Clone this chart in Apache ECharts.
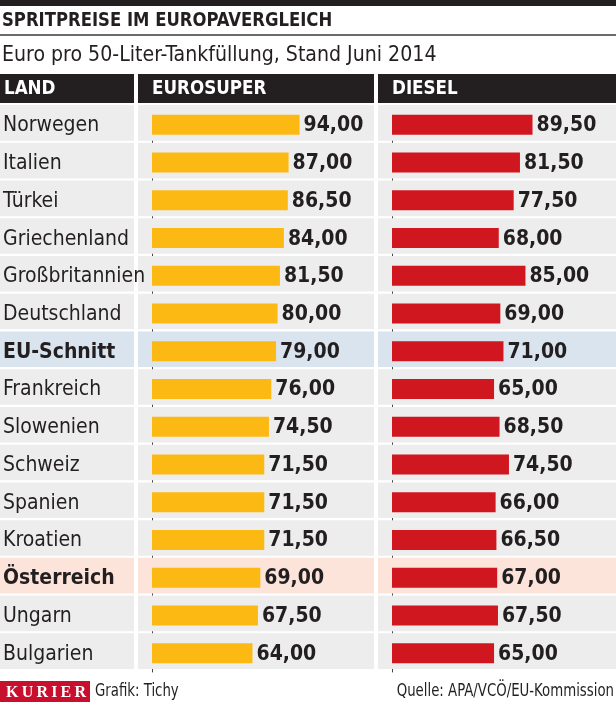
<!DOCTYPE html>
<html><head><meta charset="utf-8">
<script src="https://cdn.jsdelivr.net/npm/echarts@6/dist/echarts.min.js"></script>
<style>html,body{margin:0;padding:0;background:#fff}#c{width:616px;height:702px}</style>
</head><body><div id="c"></div>
<script>
const countries = ['Norwegen','Italien','Türkei','Griechenland','Großbritannien','Deutschland','EU-Schnitt','Frankreich','Slowenien','Schweiz','Spanien','Kroatien','Österreich','Ungarn','Bulgarien'];
const eurosuper = [94.00, 87.00, 86.50, 84.00, 81.50, 80.00, 79.00, 76.00, 74.50, 71.50, 71.50, 71.50, 69.00, 67.50, 64.00];
const diesel    = [89.50, 81.50, 77.50, 68.00, 85.00, 69.00, 71.00, 65.00, 68.50, 74.50, 66.00, 66.50, 67.00, 67.50, 65.00];
const columnHeaders = ['LAND','EUROSUPER','DIESEL'];
const titleText = 'SPRITPREISE IM EUROPAVERGLEICH';
const subtitleText = 'Euro pro 50-Liter-Tankfüllung, Stand Juni 2014';
const creditText = 'Grafik: Tichy';
const sourceText = 'Quelle: APA/VCÖ/EU-Kommission';
const brandText = 'KURIER';
const highlight = {'EU-Schnitt':'#DAE4EE','Österreich':'#FCE4DB'};

const FONT = '"DejaVu Sans Condensed","Liberation Sans Narrow","Roboto",sans-serif';
const DARK = '#231F20';
const ROW_BG = '#EDEDED';
const TOP = 104, H = 566;
const rowColor = c => highlight[c] || ROW_BG;
const fmt = v => v.toFixed(2).replace('.', ',');

const chart = echarts.init(document.getElementById('c'), null, {renderer:'canvas'});

const grids = [
  {left:0, top:TOP, width:134, height:H},
  {left:138, top:TOP, width:236, height:H},
  {left:378, top:TOP, width:238, height:H},
  {left:152, top:TOP+2, width:219.8, height:H},
  {left:392, top:TOP+2, width:219.8, height:H}
];
const xAxes = grids.map((g,i) => ({gridIndex:i, type:'value', min:0, max: i<3 ? 1 : 140, show:false}));
const yAxes = grids.map((g,i) => ({
  gridIndex:i, type:'category', data:countries, inverse:true,
  show: i>=3,
  axisLine:{show:true, lineStyle:{color:'#444', width:1}},
  axisTick:{show:false}, axisLabel:{show:false}, splitLine:{show:false}
}));

const bgSeries = [0,1,2].map(i => ({
  type:'bar', xAxisIndex:i, yAxisIndex:i, silent:true, barWidth:35.6,
  data: countries.map(c => ({value:1, itemStyle:{color:rowColor(c)}})),
  label: i===0 ? {
    show:true, position:'insideLeft', distance:3, offset:[0,3],
    formatter: p => highlight[p.name] ? '{b|'+p.name+'}' : '{n|'+p.name+'}',
    rich:{
      n:{fontFamily:FONT, fontSize:21, color:DARK},
      b:{fontFamily:FONT, fontSize:21, color:DARK, fontWeight:'bold'}
    }
  } : {show:false},
  z:1
}));

const valLabel = {
  show:true, position:'right', distance:4, offset:[0,1],
  formatter: p => fmt(p.value),
  fontFamily:FONT, fontSize:21, fontWeight:'bold', color:DARK
};

const dataSeries = [
  {name:'Eurosuper', type:'bar', xAxisIndex:3, yAxisIndex:3, barWidth:20, data:eurosuper,
   itemStyle:{color:'#FDB913'}, label:valLabel, z:3},
  {name:'Diesel', type:'bar', xAxisIndex:4, yAxisIndex:4, barWidth:20, data:diesel,
   itemStyle:{color:'#D0161F'}, label:valLabel, z:3}
];

const headerX = [[0,134],[138,374],[378,616]];
const headerTextX = [4,152,392];
const graphic = [
  {type:'rect', shape:{x:0,y:0,width:616,height:6}, style:{fill:DARK}},
  {type:'text', x:2, y:21, scaleX:0.915, style:{text:titleText, font:'bold 20px '+FONT, fill:DARK, textVerticalAlign:'middle'}},
  {type:'rect', shape:{x:0,y:34,width:616,height:2}, style:{fill:'#6b6b6b'}},
  {type:'text', x:2, y:55, scaleX:0.96, style:{text:subtitleText, font:'22px '+FONT, fill:DARK, textVerticalAlign:'middle'}},
];
headerX.forEach((h,i) => {
  graphic.push({type:'rect', shape:{x:h[0], y:74, width:h[1]-h[0], height:29}, style:{fill:DARK}});
  graphic.push({type:'text', x:headerTextX[i], y:89, scaleX:0.93, style:{text:columnHeaders[i], font:'bold 20px '+FONT, fill:'#fff', textVerticalAlign:'middle'}});
});
graphic.push(
  {type:'rect', shape:{x:0,y:681,width:90,height:21}, style:{fill:'#C8102E'}},
  {type:'text', x:46, y:693, style:{text:brandText.split('').join('\u2009'), font:'bold 16px "Liberation Serif","DejaVu Serif",serif', fill:'#fff', textAlign:'center', textVerticalAlign:'middle'}},
  {type:'text', x:95, y:692, scaleX:0.87, style:{text:creditText, font:'17px '+FONT, fill:DARK, textVerticalAlign:'middle'}},
  {type:'text', x:614, y:692, scaleX:0.87, style:{text:sourceText, font:'17px '+FONT, fill:DARK, textAlign:'right', textVerticalAlign:'middle'}}
);

chart.setOption({
  animation:false,
  grid:grids, xAxis:xAxes, yAxis:yAxes,
  series:[...bgSeries, ...dataSeries],
  graphic:graphic
});
</script></body></html>
